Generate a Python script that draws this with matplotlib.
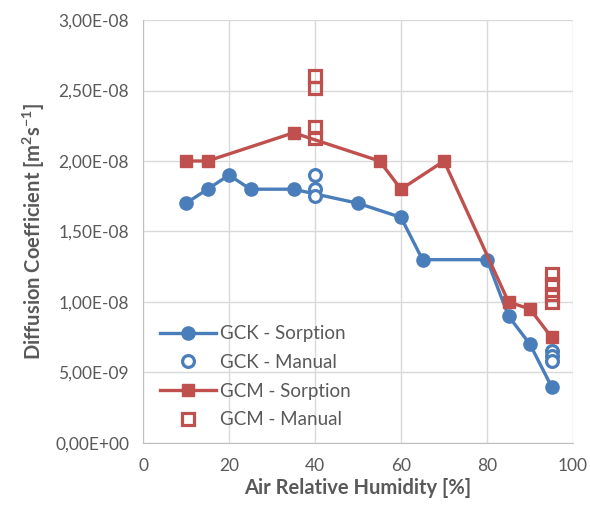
import matplotlib.pyplot as plt
from matplotlib.ticker import FuncFormatter

plt.rcParams['font.family'] = ['Lato', 'DejaVu Sans']
plt.rcParams['mathtext.fontset'] = 'custom'
plt.rcParams['mathtext.rm'] = 'Lato'
plt.rcParams['mathtext.bf'] = 'Lato:bold'
plt.rcParams['mathtext.default'] = 'bf'

BLUE = '#4a7ebb'
RED = '#c0504d'
TXT = '#595959'

# GCK sorption curve
gck_x = [10, 15, 20, 25, 35, 50, 60, 65, 80, 85, 90, 95]
gck_y = [1.7e-8, 1.8e-8, 1.9e-8, 1.8e-8, 1.8e-8, 1.7e-8, 1.6e-8, 1.3e-8, 1.3e-8, 0.9e-8, 0.7e-8, 0.4e-8]
# GCK manual points
gck_man_x = [40, 40, 40, 95, 95, 95]
gck_man_y = [1.9e-8, 1.8e-8, 1.75e-8, 0.65e-8, 0.62e-8, 0.58e-8]

# GCM sorption curve
gcm_x = [10, 15, 35, 55, 60, 70, 85, 90, 95]
gcm_y = [2.0e-8, 2.0e-8, 2.2e-8, 2.0e-8, 1.8e-8, 2.0e-8, 1.0e-8, 0.95e-8, 0.75e-8]
# GCM manual points
gcm_man_x = [40, 40, 40, 40, 95, 95, 95, 95]
gcm_man_y = [2.6e-8, 2.52e-8, 2.24e-8, 2.16e-8, 1.2e-8, 1.13e-8, 1.06e-8, 1.0e-8]


def sci_comma(v, pos):
    s = '%.2E' % v
    mant, exp = s.split('E')
    sign = exp[0]
    num = int(exp[1:])
    return mant.replace('.', ',') + 'E' + sign + '%02d' % num


fig = plt.figure(figsize=(5.9, 5.09), dpi=100)
ax = fig.add_axes([0.2424, 0.1297, 0.7288, 0.8310])

ax.plot(gck_x, gck_y, color=BLUE, lw=2.4, marker='o', ms=9.5, label='GCK - Sorption', zorder=3)
ax.plot(gck_man_x, gck_man_y, ls='none', marker='o', ms=8.5, mfc='white', mec=BLUE, mew=2.3,
        label='GCK - Manual', zorder=4)
ax.plot(gcm_x, gcm_y, color=RED, lw=2.4, marker='s', ms=9, label='GCM - Sorption', zorder=3)
ax.plot(gcm_man_x, gcm_man_y, ls='none', marker='s', ms=8.5, mfc='none', mec=RED, mew=2.3,
        label='GCM - Manual', zorder=4)

ax.set_xlim(0, 100)
ax.set_ylim(0, 3.0e-8)
ax.set_xticks([0, 20, 40, 60, 80, 100])
ax.set_yticks([i * 0.5e-8 for i in range(7)])
ax.yaxis.set_major_formatter(FuncFormatter(sci_comma))
ax.grid(True, color='#d9d9d9', lw=1)
ax.set_axisbelow(True)
ax.tick_params(length=0, labelsize=12.5, colors=TXT, pad=10)
ax.tick_params(axis='x', pad=11)
for s in ['top', 'right']:
    ax.spines[s].set_visible(False)
for s in ['left', 'bottom']:
    ax.spines[s].set_color('#bfbfbf')

ax.set_xlabel('Air Relative Humidity [%]', fontsize=14.5, fontweight='bold', color=TXT, labelpad=3)
ax.set_ylabel('Diffusion Coefficient [m$^2$s$^{-1}$]', fontsize=14.5, fontweight='bold', color=TXT, labelpad=6)

leg = ax.legend(loc='lower left', bbox_to_anchor=(0.0, -0.005), frameon=False, fontsize=13.5,
                handlelength=3.0, handletextpad=0.2, labelspacing=0.62)
for t in leg.get_texts():
    t.set_color(TXT)

fig.savefig('out.png', dpi=100)
